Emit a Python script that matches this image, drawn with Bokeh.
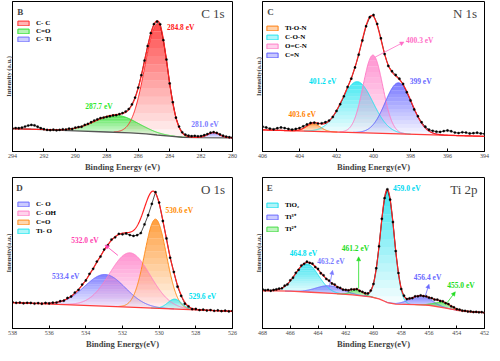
import numpy as np
from bokeh.plotting import figure
from bokeh.models import Range1d, FixedTicker, Label, Arrow, NormalHead, Legend, LegendItem
from bokeh.layouts import row, column
from bokeh.embed import file_html
from bokeh.resources import INLINE

FONT = "Liberation Serif"

# ---------------- C 1s (panel B) ----------------
c1s_energy = np.round(np.arange(294.0, 279.99, -0.2), 1)
c1s_counts = [15.3, 15.6, 15.5, 15.9, 16.6, 17.3, 17.7, 17.4, 16.5, 15.5, 14.9, 14.4, 14.2, 14.5,
              14.1, 14.4, 14.8, 14.6, 15.2, 15.0, 15.9,
              16.3, 16.5, 17.7, 18.4, 19.5, 20.6, 21.4, 22.3, 22.6, 23.1, 23.5, 24.0, 24.2, 24.9,
              25.6, 26.6, 28.3, 31.4, 35.9, 42.6, 50.9, 60.6, 70.3, 78.9, 84.9,
              86.6, 84.8, 74.2, 61.3, 45.4, 32.9, 22.5, 16.6, 12.8, 11.2, 10.5, 10.2, 10.4, 10.1,
              10.3, 10.9, 11.6, 12.5, 12.9, 12.4, 11.4, 10.5, 9.9, 9.5, 9.3]
c1s_bg_energy = [294, 292, 290, 288, 286.5, 285.5, 284.8, 284, 283.2, 282, 280]
c1s_bg = [15.2, 14.6, 13.8, 13.0, 12.4, 11.8, 11.0, 10.2, 9.5, 9.3, 9.1]
c1s_names = ["C- C", "C=O", "C- Ti"]
c1s_colors = ["#ff2a2a", "#2ee02e", "#6f6fff"]
c1s_peak_species = [0, 1, 2]
c1s_centers = [284.75, 287.4, 281.2]
c1s_heights = [74.4, 11.4, 3.3]
c1s_fwhm_high = [1.94, 3.18, 0.9]
c1s_fwhm_low = [1.44, 3.18, 0.9]
c1s_ticks = [294, 292, 290, 288, 286, 284, 282, 280]
c1s_notes = ["284.8 eV", "287.7 eV", "281.0 eV"]

# ---------------- N 1s (panel C) ----------------
n1s_energy = np.round(np.arange(406.0, 393.99, -0.2), 1)
n1s_counts = [16.5, 16.0, 15.2, 14.8, 15.5, 16.0, 15.6, 15.0, 14.6, 15.0, 15.6, 16.8, 18.0, 19.0,
              19.2, 18.6, 18.8, 19.5, 20.6, 23.0, 27.0, 31.5, 36.8, 43.0, 48.5, 56.0, 64.5, 74.0,
              83.5, 89.5, 91.0, 85.0, 75.5, 65.0, 57.0, 53.5, 51.0, 48.5, 45.0, 39.5, 34.0, 28.0,
              23.5, 19.5, 16.5, 14.5, 13.8, 13.2, 13.0, 13.6, 14.0, 13.5, 12.6, 12.3, 12.8, 12.6,
              12.0, 12.2, 12.5, 12.0, 11.8]
n1s_bg_energy = [406, 400, 394]
n1s_bg = [14.4, 12.25, 10.1]
n1s_names = ["Ti-O-N", "C-O-N", "O=C-N", "C=N"]
n1s_colors = ["#ff7f0e", "#22e5f0", "#ff7fc8", "#6060ff"]
n1s_peak_species = [0, 1, 2, 3]
n1s_centers = [403.25, 400.88, 400.03, 398.65]
n1s_heights = [5.0, 34.0, 52.0, 34.0]
n1s_fwhm = [0.9, 2.0, 1.25, 1.7]
n1s_ticks = [406, 404, 402, 400, 398, 396, 394]
n1s_notes = ["403.6 eV", "401.2 eV", "400.3 eV", "399 eV"]

# ---------------- O 1s (panel D) ----------------
o1s_energy = np.round(np.arange(538.0, 525.99, -0.2), 1)
o1s_counts = [17.4, 17.0, 17.2, 16.7, 17.0, 16.9, 16.5, 16.8, 16.4, 16.9, 16.6,
              17.1, 17.2, 18.1, 18.4, 20.2, 21.2, 23.8, 25.6, 29.1, 31.8, 36.2, 39.5, 44.3, 47.6,
              52.3, 55.1, 58.9, 60.4, 62.6, 62.4,
              62.9, 61.9, 61.3, 61.8, 63.2, 68.9, 75.0, 82.5, 90.3, 83.4, 71.2, 59.6, 46.8, 37.5,
              27.7, 21.6, 16.4, 14.6, 12.8, 12.9,
              12.2, 12.5, 11.9, 12.2, 11.7, 12.0, 11.5, 11.8, 11.3, 11.6]
o1s_bg_energy = [538, 532, 526]
o1s_bg = [17.2, 14.3, 11.4]
o1s_names = ["C- O", "C- OH", "C=O", "Ti- O"]
o1s_colors = ["#6a6aff", "#ff80c8", "#ff8c1a", "#1ee6ee"]
o1s_peak_species = [0, 1, 2, 3]
o1s_centers = [532.95, 531.6, 530.2, 529.15]
o1s_heights = [21.0, 36.0, 59.0, 6.5]
o1s_fwhm = [2.6, 2.6, 1.4, 0.9]
o1s_ticks = [538, 536, 534, 532, 530, 528, 526]
o1s_notes = ["533.4 eV", "532.0 eV", "530.6 eV", "529.6 eV"]

# ---------------- Ti 2p (panel E) ----------------
ti2p_energy = np.round(np.arange(468.0, 451.99, -0.2), 1)
ti2p_counts = [25.9, 25.3, 25.6, 25.0, 25.5, 25.9, 26.4, 26.6, 28.3, 29.2, 31.9,
               33.6, 36.9, 38.8, 41.7, 42.8, 44.2, 43.4, 42.9, 40.7, 39.4, 36.6, 35.2, 32.8, 31.7,
               29.8, 29.1, 27.4, 26.9, 25.7, 25.6,
               25.2, 25.9, 25.8, 26.1, 24.9, 24.3, 23.4, 23.2, 25.1, 29.5, 39.9, 54.4, 72.6, 86.3,
               92.2, 85.3, 70.5, 51.3, 36.7, 26.1,
               21.7, 19.5, 19.9, 20.1, 21.3, 21.3, 21.9, 21.4, 21.3, 20.4, 20.1, 19.1, 19.1, 18.2,
               18.0, 16.8, 16.2, 14.7, 14.0, 12.8,
               12.5, 11.8, 11.7, 11.2, 11.3, 10.9, 11.0, 10.7, 10.8, 10.5]
ti2p_bg_energy = [468, 466, 464.5, 463, 461.5, 460.2, 459.6, 459.0, 458.4, 457, 456, 455, 454, 453, 452]
ti2p_bg = [25.1, 24.7, 24.0, 23.2, 22.3, 21.0, 19.6, 17.2, 16.2, 15.8, 15.4, 13.8, 12.1, 11.1, 10.5]
ti2p_names = ["TiO\u2082", "Ti\u00b3\u207a", "Ti\u00b2\u207a"]
ti2p_colors = ["#1ee0ee", "#6a6aff", "#44dd44"]
ti2p_peak_species = [0, 0, 1, 1, 2, 2]
ti2p_centers = [464.8, 459.0, 463.2, 456.6, 461.2, 455.0]
ti2p_heights = [18.5, 74.7, 5.0, 6.0, 3.4, 3.4]
ti2p_fwhm = [2.0, 1.15, 2.2, 1.8, 1.0, 1.4]
ti2p_ticks = [468, 466, 464, 462, 460, 458, 456, 454, 452]
ti2p_notes = ["464.8 eV", "463.2 eV", "461.2 eV", "459.0 eV", "456.4 eV", "455.0 eV"]


def gauss(x, c, h, w_hi, w_lo):
    s = np.where(x >= c, w_hi, w_lo) / 2.3548
    return h * np.exp(-(x - c) ** 2 / (2 * s ** 2))


def gradient_fill(p, x, base, top, color, n=14, a0=0.03, a1=0.85):
    lo, hi = float(base.min()), float(top.max())
    for i in range(n):
        l = lo + (hi - lo) * i / n
        u = lo + (hi - lo) * (i + 1) / n
        y1 = np.maximum(base, l)
        y2 = np.maximum(np.minimum(top, u), y1)
        if np.all(y2 - y1 < 1e-6):
            continue
        a = a0 + (a1 - a0) * (i + 0.5) / n
        p.varea(x=x, y1=y1, y2=y2, fill_color=color, fill_alpha=a)


def make_panel(width, border_left, height, xr, ticks, energy, counts, bg_e, bg_v,
               names, colors, species, centers, heights, fw_hi, fw_lo, bg_color,
               letter, title, xlabel, ylabel, notes, arrows, legend_loc, legend_spacing):
    p = figure(width=width, height=height, x_range=Range1d(xr[0], xr[1]), y_range=Range1d(0, 100),
               output_backend="svg", toolbar_location=None, tools="",
               min_border_left=border_left, min_border_right=8, min_border_top=1, min_border_bottom=25,
               background_fill_color="white", border_fill_color="white")
    p.outline_line_color = "black"
    p.outline_line_width = 1
    p.xgrid.visible = False
    p.ygrid.visible = False

    xf = np.linspace(min(xr), max(xr), 800)
    order = np.argsort(bg_e)
    base = np.interp(xf, np.array(bg_e, dtype=float)[order], np.array(bg_v, dtype=float)[order])
    comps = [gauss(xf, c, h, a, b) for c, h, a, b in zip(centers, heights, fw_hi, fw_lo)]

    for comp, sp, h in zip(comps, species, heights):
        m = comp > 0.003 * h
        gradient_fill(p, xf[m], base[m], base[m] + comp[m], colors[sp])
    for comp, sp, h in zip(comps, species, heights):
        m = comp > 0.003 * h
        p.line(xf[m], base[m] + comp[m], line_color=colors[sp], line_width=1)

    p.line(bg_e, bg_v, line_color=bg_color, line_width=1.3)
    p.line(energy, counts, line_color="black", line_width=0.7)
    envelope = base + np.sum(comps, axis=0)
    p.line(xf, envelope, line_color="#ff2020", line_width=1.2)
    p.scatter(energy, counts, size=2.3, marker="circle", fill_color="black", line_color="black", line_width=0.3)

    # legend (swatch renderers hold no drawable point)
    items = []
    for name, col in zip(names, colors):
        r = p.quad(left=[np.nan], right=[np.nan], top=[np.nan], bottom=[np.nan], fill_color=col,
                   fill_alpha=0.35, line_color=col, line_width=1)
        items.append(LegendItem(label=name, renderers=[r]))
    leg = Legend(items=items, location=legend_loc, glyph_width=14, glyph_height=6,
                 label_height=7, label_width=20, spacing=legend_spacing, padding=0, margin=0,
                 label_standoff=6, background_fill_alpha=0, border_line_color=None,
                 label_text_font=FONT, label_text_font_style="bold", label_text_font_size="7px",
                 label_text_color="black")
    p.add_layout(leg)

    # axes
    p.xaxis.ticker = FixedTicker(ticks=ticks)
    p.xaxis.major_tick_in = 3
    p.xaxis.major_tick_out = 0
    p.xaxis.minor_tick_line_color = None
    p.xaxis.major_label_text_font = FONT
    p.xaxis.major_label_text_font_size = "6px"
    p.xaxis.major_label_standoff = 2
    p.xaxis.axis_label = xlabel
    p.xaxis.axis_label_text_font = FONT
    p.xaxis.axis_label_text_font_style = "bold"
    p.xaxis.axis_label_text_font_size = "8.5px"
    p.xaxis.axis_label_standoff = 1
    p.xaxis.axis_line_color = "black"

    p.yaxis.ticker = FixedTicker(ticks=[])
    p.yaxis.minor_tick_line_color = None
    p.yaxis.major_tick_line_color = None
    p.yaxis.axis_label = ylabel
    p.yaxis.axis_label_text_font = FONT
    p.yaxis.axis_label_text_font_style = "bold"
    p.yaxis.axis_label_text_font_size = "6.5px"
    p.yaxis.axis_label_standoff = 1
    p.yaxis.major_label_standoff = 0
    p.yaxis.axis_line_color = "black"

    # panel letter and title
    p.add_layout(Label(x=letter[1], y=93, text=letter[0], text_font=FONT, text_font_style="bold",
                       text_font_size="9px", text_align="left", text_baseline="middle"))
    p.add_layout(Label(x=title[1], y=92, text=title[0], text_font=FONT,
                       text_font_size="13px", text_align="right", text_baseline="middle"))
    for txt, (x, y, col) in notes:
        p.add_layout(Label(x=x, y=y, text=txt, text_color=col, text_font=FONT, text_font_style="bold",
                           text_font_size="7.5px", text_align="center", text_baseline="middle"))
    for (x0, y0, x1, y1, col) in arrows:
        p.add_layout(Arrow(x_start=x0, y_start=y0, x_end=x1, y_end=y1, line_color=col, line_width=0.8,
                           end=NormalHead(size=4, fill_color=col, line_color=col, line_width=0.5)))
    return p


pB = make_panel(240, 12, 176, (294, 280), c1s_ticks, c1s_energy, c1s_counts, c1s_bg_energy, c1s_bg,
                c1s_names, c1s_colors, c1s_peak_species, c1s_centers, c1s_heights,
                c1s_fwhm_high, c1s_fwhm_low, "#555555",
                ("B", 293.7), ("C 1s", 280.5), "Binding Energy (eV)", "Intensity (a.u.)",
                [(c1s_notes[0], (283.3, 83, "#ff2020")),
                 (c1s_notes[1], (288.5, 29.7, "#2ee82e")),
                 (c1s_notes[2], (281.75, 17.7, "#7b7bff"))],
                [], (4, 108), 0)

pC = make_panel(252, 22, 176, (406, 394), n1s_ticks, n1s_energy, n1s_counts, n1s_bg_energy, n1s_bg,
                n1s_names, n1s_colors, n1s_peak_species, n1s_centers, n1s_heights,
                n1s_fwhm, n1s_fwhm, "#ff3b3b",
                ("C", 405.75), ("N 1s", 394.4), "Binding Energy(eV)", "Intensity(a.u.)",
                [(n1s_notes[0], (403.85, 25, "#ff7f00")),
                 (n1s_notes[1], (402.75, 46.7, "#00e0f0")),
                 (n1s_notes[2], (397.5, 74, "#ff6ec7")),
                 (n1s_notes[3], (397.45, 46.7, "#6a6aff"))],
                [(399.9, 63, 398.35, 73, "#ff6ec7")], (3, 92), 1)

pD = make_panel(240, 12, 177, (538, 526), o1s_ticks, o1s_energy, o1s_counts, o1s_bg_energy, o1s_bg,
                o1s_names, o1s_colors, o1s_peak_species, o1s_centers, o1s_heights,
                o1s_fwhm, o1s_fwhm, "#ff3b3b",
                ("D", 537.8), ("O 1s", 526.4), "Binding Energy(eV)", "Intensity(a.u.)",
                [(o1s_notes[0], (535.1, 34.4, "#6a6aff")),
                 (o1s_notes[1], (534.05, 58, "#ff3fb0")),
                 (o1s_notes[2], (528.9, 78, "#ff8c00")),
                 (o1s_notes[3], (527.64, 20.9, "#00e0f0"))],
                [(532.25, 48.4, 532.95, 55.3, "#ff3fb0")], (4, 93), 1)

pE = make_panel(252, 22, 177, (468, 452), ti2p_ticks, ti2p_energy, ti2p_counts, ti2p_bg_energy, ti2p_bg,
                ti2p_names, ti2p_colors, ti2p_peak_species, ti2p_centers, ti2p_heights,
                ti2p_fwhm, ti2p_fwhm, "#ff4d4d",
                ("E", 467.7), ("Ti 2p", 452.5), "Binding Energy(eV)", "Intensity(a.u.)",
                [(ti2p_notes[0], (465.05, 50, "#00e0f0")),
                 (ti2p_notes[1], (463.07, 44.3, "#7b7bff")),
                 (ti2p_notes[2], (461.3, 53.3, "#22dd22")),
                 (ti2p_notes[3], (457.6, 92.5, "#00d8f0")),
                 (ti2p_notes[4], (456.1, 34, "#6a6aff")),
                 (ti2p_notes[5], (453.7, 28.3, "#22dd22"))],
                [(463.2, 27, 462.95, 38.5, "#7b7bff"),
                 (461.07, 26.5, 461.07, 47.5, "#22dd22"),
                 (456.26, 21.8, 456.0, 29.3, "#6a6aff"),
                 (454.7, 17.0, 454.1, 24.3, "#22dd22")], (3, 95), 3)

layout = column(row(pB, pC), row(pD, pE))
open("out.html", "w").write(file_html(layout, INLINE))
